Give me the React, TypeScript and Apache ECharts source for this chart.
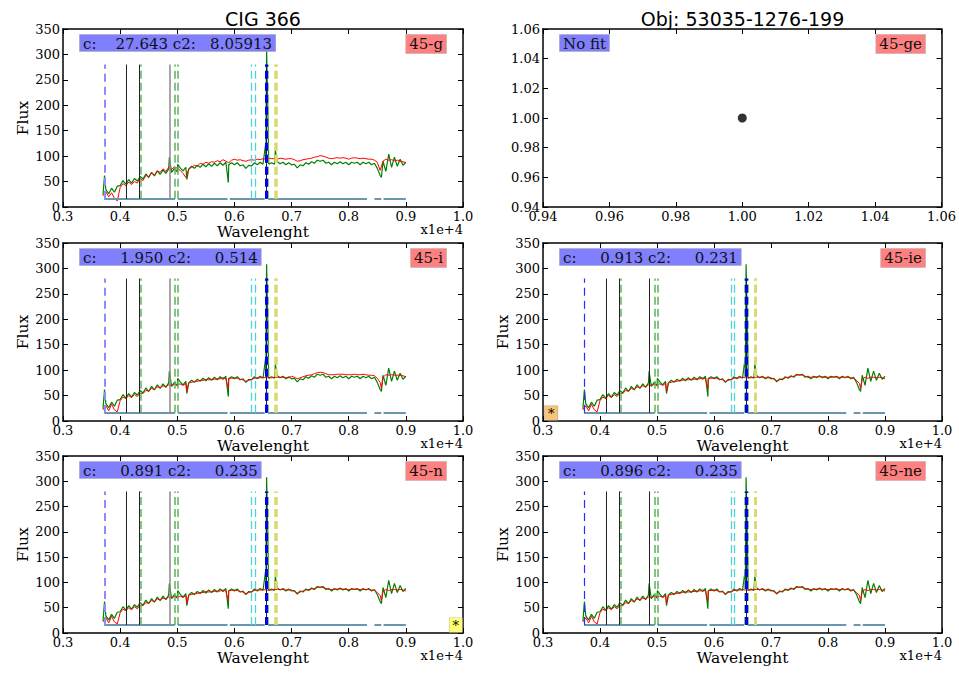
import React, { useEffect, useRef } from "react";
import * as echarts from "echarts";

// ---------- data ----------
const WAVE_START = 0.37; // x1e+4 Angstrom
const WAVE_STEP = 0.005;

// observed spectrum (green), sampled every 0.005 from 0.370 to 0.900
const observedFlux = [
  24, 34, 26, 37, 29, 41, 42, 52, 45, 54,
  47, 56, 51, 60, 55, 65, 58, 68, 61, 71,
  64, 73, 66, 75, 68, 76, 69, 77, 71, 78,
  75, 80, 76, 82, 78, 84, 79, 85, 80, 86,
  81, 87, 82, 88, 83, 87, 83, 87, 81, 83,
  76, 82, 81, 87, 83, 88, 84, 88, 84, 87,
  84, 89, 85, 88, 83, 87, 83, 84, 77, 83,
  81, 87, 84, 89, 86, 92, 90, 92, 86, 88,
  83, 88, 85, 89, 85, 88, 83, 88, 86, 88,
  83, 88, 85, 88, 83, 86, 76, 62, 90, 70,
  104, 78, 98, 80, 94, 82, 88,
];

// emission-line peaks in the observed spectrum [wavelength, flux]
const emissionPeaks = [
  [0.3727, 62],
  [0.4861, 98],
  [0.5007, 84],
  [0.6548, 125],
  [0.6563, 308],
  [0.6584, 198],
  [0.6717, 112],
  [0.6731, 100],
];

// narrow absorption features in the observed spectrum [wavelength, flux]
const absorptionDips = [
  [0.5167, 54],
  [0.5893, 48],
  [0.8572, 58],
];

// fitted models (red)
const fitFluxG = [
  22, 30, 20, 28, 17, 12, 38, 46, 42, 49,
  44, 50, 47, 56, 52, 62, 60, 67, 63, 71,
  68, 75, 70, 78, 74, 79, 76, 72, 66, 58,
  74, 78, 82, 80, 86, 84, 88, 86, 89, 88,
  91, 89, 93, 90, 87, 92, 94, 92, 93, 91,
  90, 92, 93, 92, 94, 93, 95, 94, 96, 95,
  95, 94, 96, 95, 94, 95, 95, 93, 90, 91,
  93, 94, 95, 96, 98, 99, 101, 100, 98, 96,
  95, 96, 97, 96, 97, 96, 94, 96, 97, 96,
  95, 96, 95, 94, 94, 92, 88, 72, 90, 94,
  92, 93, 91, 92, 90, 89, 87,
];

const fitFluxI = [
  22, 30, 20, 33, 22, 18, 40, 47, 44, 50,
  46, 52, 48, 55, 54, 60, 59, 64, 62, 67,
  66, 69, 68, 71, 70, 72, 71, 73, 70, 74,
  75, 76, 78, 78, 80, 80, 82, 81, 82, 82,
  83, 83, 85, 83, 84, 84, 85, 84, 82, 81,
  78, 80, 82, 84, 85, 85, 86, 85, 85, 85,
  86, 86, 86, 86, 85, 85, 88, 86, 83, 85,
  87, 89, 90, 91, 93, 95, 96, 95, 93, 91,
  91, 91, 92, 92, 92, 91, 91, 91, 92, 91,
  91, 92, 91, 90, 90, 89, 84, 76, 86, 91,
  90, 91, 90, 90, 90, 89, 87,
];

const fitFluxN = [
  22, 30, 20, 33, 22, 18, 40, 47, 44, 50,
  46, 52, 48, 55, 54, 60, 59, 64, 62, 67,
  66, 69, 68, 71, 70, 72, 71, 73, 70, 74,
  75, 76, 78, 78, 80, 80, 82, 81, 82, 82,
  83, 83, 85, 83, 84, 84, 85, 84, 82, 81,
  78, 80, 82, 84, 85, 85, 86, 85, 85, 85,
  86, 86, 86, 86, 85, 85, 85, 82, 79, 81,
  83, 85, 86, 87, 88, 90, 91, 90, 88, 86,
  86, 86, 87, 87, 87, 86, 86, 86, 87, 86,
  86, 86, 86, 86, 85, 84, 80, 74, 82, 86,
  84, 86, 86, 85, 86, 85, 83,
];

// narrow absorption features reproduced by the good fits [wavelength, flux]
const fitDips = [
  [0.5167, 58],
  [0.5893, 64],
  [0.8572, 64],
];

// error / mask level drawn along the bottom
const errorLevel = 17;
const errorSegments = [
  [0.372, 0.496],
  [0.501, 0.588],
  [0.592, 0.653],
  [0.659, 0.832],
  [0.845, 0.857],
  [0.861, 0.9],
];

// reference lines
const lineLow = 16;
const lineHigh = 280;
const oiiWaves = [0.3727];
const oiiiWaves = [0.4363, 0.4959, 0.5007];
const niiWaves = [0.6548, 0.6584];
const oiWaves = [0.63, 0.6364];
const siiWaves = [0.6717, 0.6731];
const balmerWaves = [0.4102, 0.434, 0.6563];
const hbetaWaves = [0.4861];
const halphaWaves = [0.6563];

// panels
const panelTitles = ["CIG 366", "Obj: 53035-1276-199"];
const fitTags = ["45-g", "45-ge", "45-i", "45-ie", "45-n", "45-ne"];
const fitC = ["27.643", "", "1.950", "0.913", "0.891", "0.896"];
const fitC2 = ["8.05913", "", "0.514", "0.231", "0.235", "0.235"];
const noFitPoint = [[1.0, 1.0]];

// ---------- layout ----------
const GRID_LAYOUT = [
  { left: 63, top: 29, width: 400, height: 178 },
  { left: 543, top: 29, width: 399, height: 178 },
  { left: 63, top: 243, width: 400, height: 178 },
  { left: 543, top: 243, width: 399, height: 178 },
  { left: 63, top: 456, width: 400, height: 177 },
  { left: 543, top: 456, width: 399, height: 177 },
];
const SERIF = '"DejaVu Serif", serif';
const SANS = '"DejaVu Sans", sans-serif';
const NB = "\u00a0";

function waveData(flux: number[], extra?: number[][][]) {
  const pts = flux.map((f, i) => [Number((WAVE_START + i * WAVE_STEP).toFixed(4)), f]);
  if (extra) {
    extra.forEach((list) => list.forEach((p) => pts.push([p[0], p[1]])));
    pts.sort((a, b) => a[0] - b[0]);
  }
  return pts;
}

function pad9(s: string) {
  return s.padStart(9, " ");
}

function buildOption() {
  const grid: any[] = [];
  const xAxis: any[] = [];
  const yAxis: any[] = [];
  const series: any[] = [];
  const graphic: any[] = [];

  const axisLineStyle = { show: true, onZero: false, lineStyle: { color: "#000", width: 1.5 } };
  const tickStyle = { show: true, inside: true, length: 5, lineStyle: { color: "#000", width: 1 } };
  const labelBase = { color: "#000", fontFamily: SERIF, fontSize: 13 };

  const greenData = waveData(observedFlux, [emissionPeaks, absorptionDips]);
  const fitData = [
    waveData(fitFluxG),
    null,
    waveData(fitFluxI, [fitDips]),
    waveData(fitFluxN, [fitDips]),
    waveData(fitFluxN, [fitDips]),
    waveData(fitFluxN, [fitDips]),
  ];

  GRID_LAYOUT.forEach((g, i) => {
    const noFit = i === 1;
    const col = i % 2;
    grid.push({ ...g, containLabel: false });
    const xr = noFit ? { min: 0.94, max: 1.06, interval: 0.02 } : { min: 0.3, max: 1.0, interval: 0.1 };
    const yr = noFit ? { min: 0.94, max: 1.06, interval: 0.02 } : { min: 0, max: 350, interval: 50 };
    xAxis.push({
      type: "value",
      gridIndex: i,
      position: "bottom",
      ...xr,
      axisLine: axisLineStyle,
      axisTick: tickStyle,
      splitLine: { show: false },
      axisLabel: {
        ...labelBase,
        margin: 3,
        formatter: (v: number) => v.toFixed(noFit ? 2 : 1),
      },
      name: noFit ? "" : "Wavelenght",
      nameLocation: "middle",
      nameGap: 15,
      nameTextStyle: { color: "#000", fontFamily: SERIF, fontSize: 15.5 },
    });
    xAxis.push({
      type: "value",
      gridIndex: i,
      position: "top",
      ...xr,
      axisLine: axisLineStyle,
      axisTick: tickStyle,
      splitLine: { show: false },
      axisLabel: { show: false },
    });
    yAxis.push({
      type: "value",
      gridIndex: i,
      position: "left",
      ...yr,
      axisLine: axisLineStyle,
      axisTick: tickStyle,
      splitLine: { show: false },
      axisLabel: {
        ...labelBase,
        margin: 3,
        formatter: (v: number) => (noFit ? v.toFixed(2) : String(Math.round(v))),
      },
      name: noFit ? "" : "Flux",
      nameLocation: "middle",
      nameGap: 30,
      nameTextStyle: { color: "#000", fontFamily: SERIF, fontSize: 15.5 },
    });
    yAxis.push({
      type: "value",
      gridIndex: i,
      position: "right",
      ...yr,
      axisLine: axisLineStyle,
      axisTick: tickStyle,
      splitLine: { show: false },
      axisLabel: { show: false },
    });

    const xi = 2 * i;
    const yi = 2 * i;

    if (noFit) {
      series.push({
        type: "scatter",
        xAxisIndex: xi,
        yAxisIndex: yi,
        data: noFitPoint,
        symbolSize: 9,
        itemStyle: { color: "#000" },
        silent: true,
      });
    } else {
      const styles: Record<string, any> = {
        oii: col === 0 ? { color: "#8c8cff", width: 2, type: [8, 5] } : { color: "#2a2aff", width: 1.2, type: [8, 5] },
        oiii: { color: "#5cb35c", width: 1.5, type: [8, 4] },
        nii: { color: "#5cb35c", width: 1.5, type: [8, 4] },
        oi: { color: "#4fd2da", width: 1.3, type: [8, 4] },
        sii: { color: "#d9d96c", width: 2.5, type: [8, 4] },
        balmer: { color: "#222", width: 1, type: "solid" },
        hbeta: col === 0 ? { color: "#8a8a8a", width: 1.5, type: "solid" } : { color: "#222", width: 1, type: "solid" },
        halpha: { color: "#0000ee", width: 3, type: [8, 4] },
      };
      const groups: [number[], string][] = [
        [oiiWaves, "oii"],
        [oiiiWaves, "oiii"],
        [niiWaves, "nii"],
        [oiWaves, "oi"],
        [siiWaves, "sii"],
        [balmerWaves, "balmer"],
        [hbetaWaves, "hbeta"],
        [halphaWaves, "halpha"],
      ];
      const mlData: any[] = [];
      errorSegments.forEach((s) => {
        mlData.push([
          { coord: [s[0], errorLevel], lineStyle: { color: "#6a97ad", width: 2, type: "solid" } },
          { coord: [s[1], errorLevel] },
        ]);
      });
      groups.forEach(([waves, key]) => {
        waves.forEach((w) => {
          mlData.push([{ coord: [w, lineLow], lineStyle: styles[key] }, { coord: [w, lineHigh] }]);
        });
      });
      series.push({
        type: "line",
        xAxisIndex: xi,
        yAxisIndex: yi,
        data: [],
        z: 1,
        silent: true,
        markLine: {
          silent: true,
          symbol: ["none", "none"],
          label: { show: false },
          emphasis: { disabled: true },
          data: mlData,
        },
      });
      series.push({
        type: "line",
        xAxisIndex: xi,
        yAxisIndex: yi,
        data: greenData,
        showSymbol: false,
        symbol: "none",
        z: 3,
        silent: true,
        lineStyle: { color: "#008000", width: 1.2 },
      });
      series.push({
        type: "line",
        xAxisIndex: xi,
        yAxisIndex: yi,
        data: fitData[i],
        showSymbol: false,
        symbol: "none",
        z: 4,
        silent: true,
        lineStyle: { color: "#ff0000", width: 1 },
      });
    }

    // labels
    const right = g.left + g.width;
    const boxTop = g.top + 6;
    const blueText = noFit
      ? "No fit"
      : ("c: " + pad9(fitC[i]) + " c2: " + pad9(fitC2[i])).replace(/ /g, NB);
    graphic.push({
      type: "text",
      x: g.left + 17,
      y: boxTop,
      z: 100,
      style: {
        text: blueText,
        fill: "#111",
        fontFamily: SERIF,
        fontSize: 15,
        backgroundColor: "#8080ff",
        borderColor: "#9a9ac8",
        borderWidth: 0.8,
        padding: [1, 3, 0, 3],
        align: "left",
        verticalAlign: "top",
        textAlign: "left",
        textVerticalAlign: "top",
      },
    });
    graphic.push({
      type: "text",
      x: right - 17,
      y: boxTop,
      z: 100,
      style: {
        text: fitTags[i],
        fill: "#111",
        fontFamily: SERIF,
        fontSize: 15,
        backgroundColor: "#ff8080",
        borderColor: "#c8a0a0",
        borderWidth: 0.8,
        padding: [1, 3, 2, 3],
        align: "right",
        verticalAlign: "top",
        textAlign: "right",
        textVerticalAlign: "top",
      },
    });
    if (!noFit) {
      graphic.push({
        type: "text",
        x: right,
        y: g.top + g.height + 22,
        z: 100,
        style: {
          text: "x1e+4",
          fill: "#000",
          fontFamily: SERIF,
          fontSize: 13,
          align: "right",
          verticalAlign: "middle",
          textAlign: "right",
          textVerticalAlign: "middle",
        },
      });
    }
    if (i < 2) {
      graphic.push({
        type: "text",
        x: g.left + g.width / 2,
        y: 19,
        z: 100,
        style: {
          text: panelTitles[i],
          fill: "#000",
          fontFamily: SANS,
          fontSize: 19,
          align: "center",
          verticalAlign: "middle",
          textAlign: "center",
          textVerticalAlign: "middle",
        },
      });
    }
  });

  // flag boxes
  const gIE = GRID_LAYOUT[3];
  graphic.push({
    type: "text",
    x: gIE.left + 2,
    y: gIE.top + gIE.height - 1,
    z: 100,
    style: {
      text: "*",
      fill: "#000",
      fontFamily: SERIF,
      fontSize: 13,
      backgroundColor: "#f7c47c",
      borderColor: "#c8a070",
      borderWidth: 0.6,
      padding: [1, 3, 0, 3],
      align: "left",
      verticalAlign: "bottom",
      textAlign: "left",
      textVerticalAlign: "bottom",
    },
  });
  const gN = GRID_LAYOUT[4];
  graphic.push({
    type: "text",
    x: gN.left + gN.width - 1,
    y: gN.top + gN.height - 1,
    z: 100,
    style: {
      text: "*",
      fill: "#000",
      fontFamily: SERIF,
      fontSize: 13,
      backgroundColor: "#ffff7a",
      borderColor: "#c8c880",
      borderWidth: 0.6,
      padding: [1, 3, 0, 3],
      align: "right",
      verticalAlign: "bottom",
      textAlign: "right",
      textVerticalAlign: "bottom",
    },
  });

  return {
    animation: false,
    backgroundColor: "#fff",
    grid,
    xAxis,
    yAxis,
    series,
    graphic,
  };
}

export default function App() {
  const ref = useRef<HTMLDivElement>(null);
  useEffect(() => {
    if (!ref.current) return;
    const chart = echarts.init(ref.current, undefined, { renderer: "svg" });
    chart.setOption(buildOption() as any);
    return () => chart.dispose();
  }, []);
  return (
    <div
      ref={ref}
      style={{ position: "fixed", left: 0, top: 0, width: 959, height: 673, background: "#fff" }}
    />
  );
}
